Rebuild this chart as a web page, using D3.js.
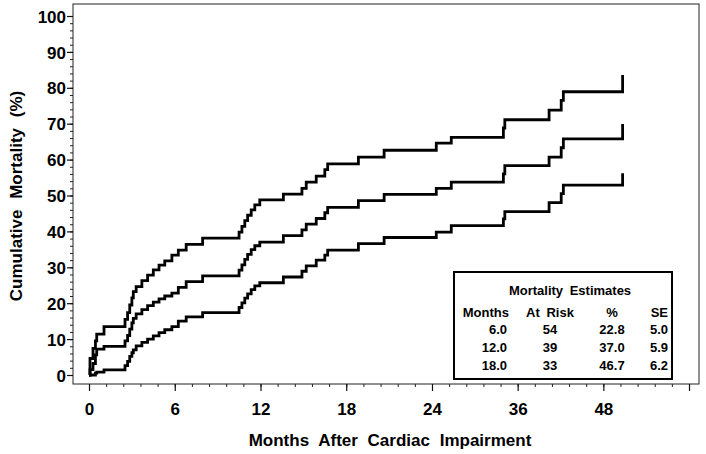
<!DOCTYPE html>
<html><head><meta charset="utf-8">
<script src="https://cdn.jsdelivr.net/npm/d3@7"></script>
<style>
body{margin:0;background:#fff}
svg{display:block}
text{font-family:"Liberation Sans",Arial,Helvetica,sans-serif;font-weight:bold;fill:#000}
</style>
</head><body>
<svg id="c" width="706" height="454"></svg>
<script>
// ---- data ----
const eventMonths = [0.07,0.28,0.45,0.54,1.05,2.52,2.7,2.85,3.0,3.1,3.3,3.7,4.1,4.5,4.9,5.3,5.8,6.25,6.8,7.95,
  10.5,10.7,10.9,11.1,11.35,11.6,11.95,13.6,14.9,15.2,15.9,16.5,16.7,18.85,20.65,24.6,26.7,34.0,34.2,40.4,42.1,42.4,50.7];
const upperPct = [4.6,7.4,9.5,11.4,13.5,15.5,17.4,19.5,21.5,23.2,24.6,26.3,27.8,29.3,30.6,31.8,33.4,34.8,36.4,38.1,
  39.8,41.4,43.0,44.5,46.0,47.4,48.8,50.4,52.0,53.7,55.4,57.2,58.8,60.7,62.6,64.6,66.2,68.8,71.1,73.8,76.5,78.9,83.6];
const estimatePct = [1.5,3.2,5.6,7.2,8.0,9.5,11.0,12.8,14.5,15.8,17.0,18.2,19.3,20.3,21.2,22.0,22.8,24.4,26.0,27.6,
  29.2,30.7,32.2,33.6,34.9,36.0,37.0,38.8,40.4,42.0,43.6,45.2,46.7,48.6,50.3,52.0,53.7,56.0,58.3,60.7,63.3,65.8,69.9];
const lowerPct = [0,0,0.5,0.8,1.4,2.6,3.8,5.2,6.2,7.0,8.1,9.1,10.0,10.9,11.8,12.6,13.5,15.0,16.2,17.4,
  18.8,20.1,21.4,22.6,23.8,24.8,25.7,27.3,28.9,30.4,32.0,33.4,34.8,36.6,38.3,39.8,41.6,43.5,45.5,48.0,50.5,52.9,56.2];

const xTickValues = [0,6,12,18,24,36,48,60];
const xTickLabels = ["0","6","12","18","24","36","48",""];
const yTickValues = [0,10,20,30,40,50,60,70,80,90,100];

const legendTitle = "Mortality Estimates";
const legendHeader = ["Months","At Risk","%","SE"];
const legendMonths = ["6.0","12.0","18.0"];
const legendAtRisk = ["54","39","33"];
const legendPct = ["22.8","37.0","46.7"];
const legendSE = ["5.0","5.9","6.2"];

// ---- layout ----
const svg = d3.select("#c");
const frame = {left:73, right:699, top:4, bottom:384};
const x = d3.scaleLinear().domain([0,24,60]).range([89,432,689]);
const y = d3.scaleLinear().domain([0,100]).range([375,16]);

// frame
svg.append("rect").attr("x",frame.left).attr("y",frame.top)
  .attr("width",frame.right-frame.left).attr("height",frame.bottom-frame.top)
  .attr("fill","none").attr("stroke","#222").attr("stroke-width",1);

// minor ticks
const xMinor = [];
for (let m=0; m<=24; m+=1.2) xMinor.push(+m.toFixed(2));
for (let m=24; m<=60; m+=2.4) xMinor.push(+m.toFixed(2));
const yMinor = d3.range(0,101,2);

svg.append("g").attr("transform",`translate(0,${frame.bottom})`)
  .call(d3.axisBottom(x).tickValues(xMinor).tickSize(3).tickFormat(""))
  .call(g=>g.select(".domain").remove())
  .call(g=>g.selectAll("line").attr("stroke","#222"));
svg.append("g").attr("transform",`translate(${frame.left},0)`)
  .call(d3.axisLeft(y).tickValues(yMinor).tickSize(3).tickFormat(""))
  .call(g=>g.select(".domain").remove())
  .call(g=>g.selectAll("line").attr("stroke","#222"));

// major axes
const xAxis = svg.append("g").attr("transform",`translate(0,${frame.bottom})`)
  .call(d3.axisBottom(x).tickValues(xTickValues).tickSize(7).tickFormat((d,i)=>xTickLabels[i]));
xAxis.select(".domain").remove();
xAxis.selectAll("line").attr("stroke","#111").attr("stroke-width",1.2);
xAxis.selectAll("text").attr("y",31).attr("dy",0).style("font-size","17px")
  .style("font-family",'"Liberation Sans",Arial,sans-serif').style("font-weight","bold");

const yAxis = svg.append("g").attr("transform",`translate(${frame.left},0)`)
  .call(d3.axisLeft(y).tickValues(yTickValues).tickSize(6).tickFormat(d3.format("d")));
yAxis.select(".domain").remove();
yAxis.selectAll("line").attr("stroke","#111").attr("stroke-width",1.2);
yAxis.selectAll("text").attr("x",-7).attr("dy","0.36em").style("font-size","17px")
  .style("font-family",'"Liberation Sans",Arial,sans-serif').style("font-weight","bold");

// axis titles
svg.append("text").attr("transform","translate(22,196) rotate(-90)")
  .attr("text-anchor","middle").style("font-size","17px").style("word-spacing","6px")
  .text("Cumulative Mortality (%)");
svg.append("text").attr("x",390).attr("y",446)
  .attr("text-anchor","middle").style("font-size","17px").style("word-spacing","5px")
  .text("Months After Cardiac Impairment");

// curves
const line = d3.line().x(d=>x(d[0])).y(d=>y(d[1])).curve(d3.curveStepAfter);
const series = [upperPct, estimatePct, lowerPct];
series.forEach(vals=>{
  const pts = [[0,0]].concat(eventMonths.map((m,i)=>[m, vals[i]]));
  svg.append("path").datum(pts).attr("d",line)
    .attr("fill","none").attr("stroke","#000").attr("stroke-width",2.8)
    .attr("stroke-linejoin","miter");
});

// legend
const lg = svg.append("g");
lg.append("rect").attr("x",454).attr("y",272).attr("width",218).attr("height",107)
  .attr("fill","#fff").attr("stroke","#000").attr("stroke-width",2);
lg.append("text").attr("x",570).attr("y",295).attr("text-anchor","middle")
  .style("font-size","13px").style("word-spacing","3px").text(legendTitle);
const cols = [
  {x:509, anchor:"end"},
  {x:550, anchor:"middle"},
  {x:612, anchor:"middle"},
  {x:668, anchor:"end"}
];
legendHeader.forEach((h,i)=>{
  lg.append("text").attr("x",cols[i].x).attr("y",317).attr("text-anchor",cols[i].anchor)
    .style("font-size","13px").style("word-spacing","3px").text(h);
});
const rows = legendMonths.map((m,i)=>[m, legendAtRisk[i], legendPct[i], legendSE[i]]);
rows.forEach((r,ri)=>{
  r.forEach((v,ci)=>{
    const xx = ci===0 ? 507 : cols[ci].x;
    lg.append("text").attr("x",xx).attr("y",334+ri*18).attr("text-anchor",cols[ci].anchor)
      .style("font-size","13px").text(v);
  });
});
</script>
</body></html>
